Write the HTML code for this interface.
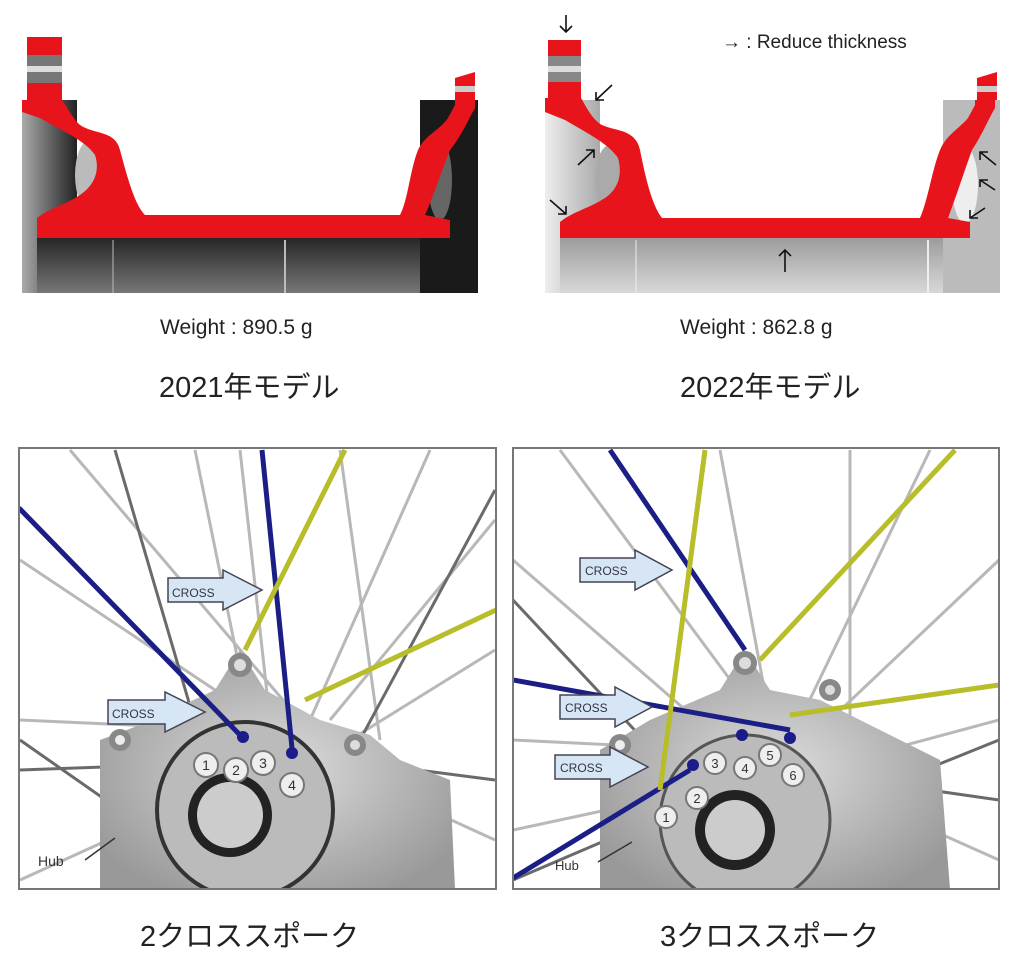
<!DOCTYPE html>
<html><head><meta charset="utf-8"><style>
html,body{margin:0;padding:0;background:#fff;}
svg{display:block}
text{font-family:"Liberation Sans","Noto Sans CJK JP",sans-serif;}
</style></head><body>
<svg width="1024" height="970" viewBox="0 0 1024 970" xmlns="http://www.w3.org/2000/svg">
<defs>
<linearGradient id="dk" x1="0" y1="0" x2="0" y2="1"><stop offset="0" stop-color="#222"/><stop offset="1" stop-color="#777"/></linearGradient>
<linearGradient id="dkl" x1="0" y1="0" x2="1" y2="0"><stop offset="0" stop-color="#aaa"/><stop offset="1" stop-color="#222"/></linearGradient>
<linearGradient id="lt" x1="0" y1="0" x2="0" y2="1"><stop offset="0" stop-color="#999"/><stop offset="1" stop-color="#d8d8d8"/></linearGradient>
<linearGradient id="ltl" x1="0" y1="0" x2="1" y2="0"><stop offset="0" stop-color="#eee"/><stop offset="1" stop-color="#aaa"/></linearGradient>
<radialGradient id="hub" cx="0.5" cy="0.5" r="0.6"><stop offset="0" stop-color="#ddd"/><stop offset="1" stop-color="#999"/></radialGradient>
</defs>

<!-- Top-left rim 2021 -->
<g>
<rect x="22" y="100" width="55" height="193" fill="url(#dkl)"/>
<rect x="37" y="235" width="413" height="58" fill="url(#dk)"/>
<line x1="113" y1="240" x2="113" y2="293" stroke="#bbb" stroke-width="1"/>
<line x1="285" y1="240" x2="285" y2="293" stroke="#bbb" stroke-width="2"/>
<rect x="420" y="100" width="58" height="193" fill="#1a1a1a"/>
<ellipse cx="90" cy="175" rx="15" ry="35" fill="#bbb"/>
<ellipse cx="440" cy="180" rx="12" ry="40" fill="#666"/>
<rect x="27" y="37" width="35" height="18" fill="#e8141b"/>
<rect x="27" y="55" width="35" height="28" fill="#777"/>
<rect x="27" y="66" width="35" height="6" fill="#ddd"/>
<path d="M27 83 H62 V100 C68 108 72 118 80 125 C95 135 115 130 120 150 C128 180 135 205 145 215 H400 C408 200 410 170 418 150 C425 135 440 130 448 118 L455 105 V100 H475 V108 C468 120 462 135 450 150 C440 175 432 200 425 215 L450 220 V238 H37 V218 C50 208 65 205 80 195 C95 185 100 170 95 155 C85 140 60 130 40 118 L22 112 V100 H27 Z" fill="#e8141b"/>
<path d="M455 78 L475 72 V100 H455 Z" fill="#e8141b"/>
<rect x="455" y="86" width="20" height="6" fill="#ccc"/>
</g>

<!-- Top-right rim 2022 -->
<g>
<rect x="545" y="100" width="55" height="193" fill="url(#ltl)"/>
<rect x="560" y="235" width="413" height="58" fill="url(#lt)"/>
<line x1="636" y1="240" x2="636" y2="293" stroke="#eee" stroke-width="1"/>
<line x1="928" y1="240" x2="928" y2="293" stroke="#eee" stroke-width="2"/>
<rect x="943" y="100" width="57" height="193" fill="#bbb"/>
<ellipse cx="610" cy="180" rx="15" ry="35" fill="#aaa"/>
<ellipse cx="965" cy="185" rx="13" ry="38" fill="#eee"/>
<rect x="548" y="40" width="33" height="16" fill="#e8141b"/>
<rect x="548" y="56" width="33" height="26" fill="#888"/>
<rect x="548" y="66" width="33" height="6" fill="#ddd"/>
<path d="M548 82 H581 V98 C586 106 590 116 600 124 C615 132 635 128 640 150 C646 180 652 205 662 218 H920 C928 200 932 170 940 150 C946 135 960 128 968 118 L975 105 V100 H995 V108 C988 120 982 135 972 150 C963 175 955 200 948 218 L970 222 V238 H560 V222 C572 212 590 208 605 198 C620 188 622 172 618 158 C608 143 585 132 565 120 L545 112 V98 H548 Z" fill="#e8141b"/>
<path d="M977 78 L997 72 V100 H977 Z" fill="#e8141b"/>
<rect x="977" y="86" width="20" height="6" fill="#ccc"/>
<g stroke="#111" stroke-width="1.6" fill="none">
<path d="M566 15 V32 M560 26 L566 32 L572 26"/>
<path d="M612 85 L596 100 M596 92 V100 H604"/>
<path d="M578 165 L594 150 M586 150 H594 V158"/>
<path d="M550 200 L566 214 M558 214 H566 V206"/>
<path d="M785 272 V250 M779 256 L785 250 L791 256"/>
<path d="M996 165 L980 152 M980 160 V152 H988"/>
<path d="M995 190 L980 180 M988 180 H980 V187"/>
<path d="M985 208 L970 218 M970 210 V218 H978"/>
</g>
<text x="722" y="48" font-size="19" fill="#222">→ : Reduce thickness</text>
</g>

<text x="160" y="334" font-size="21" fill="#222">Weight : 890.5 g</text>
<text x="680" y="334" font-size="21" fill="#222">Weight : 862.8 g</text>
<text x="159" y="397" font-size="29" fill="#222">2021年モデル</text>
<text x="680" y="397" font-size="29" fill="#222">2022年モデル</text>

<!-- Bottom-left panel -->
<g>
<clipPath id="c1"><rect x="19" y="448" width="477" height="441"/></clipPath>
<g clip-path="url(#c1)">
<rect x="19" y="448" width="477" height="441" fill="#fff"/>
<g stroke="#b8b8b8" stroke-width="3">
<line x1="70" y1="450" x2="300" y2="720"/><line x1="195" y1="450" x2="250" y2="720"/>
<line x1="430" y1="450" x2="310" y2="720"/><line x1="340" y1="450" x2="380" y2="740"/>
<line x1="20" y1="560" x2="260" y2="720"/><line x1="20" y1="720" x2="240" y2="730"/>
<line x1="495" y1="520" x2="330" y2="720"/><line x1="495" y1="650" x2="350" y2="740"/>
<line x1="495" y1="840" x2="320" y2="760"/><line x1="20" y1="880" x2="240" y2="780"/>
<line x1="240" y1="450" x2="270" y2="720"/>
</g>
<g stroke="#6a6a6a" stroke-width="3">
<line x1="115" y1="450" x2="200" y2="740"/><line x1="495" y1="490" x2="360" y2="740"/>
<line x1="20" y1="770" x2="300" y2="760"/><line x1="20" y1="740" x2="220" y2="880"/>
<line x1="495" y1="780" x2="340" y2="760"/>
</g>
<path d="M100 740 L140 725 L215 690 L240 650 L265 690 L320 720 L370 735 L400 760 L450 780 L455 889 H100 Z" fill="url(#hub)"/>
<circle cx="240" cy="665" r="12" fill="#888"/><circle cx="240" cy="665" r="6" fill="#ddd"/>
<circle cx="120" cy="740" r="11" fill="#888"/><circle cx="120" cy="740" r="5" fill="#eee"/>
<circle cx="355" cy="745" r="11" fill="#888"/><circle cx="355" cy="745" r="5" fill="#ddd"/>
<circle cx="245" cy="810" r="88" fill="#bbb" stroke="#333" stroke-width="4"/>
<circle cx="230" cy="815" r="42" fill="#222"/><circle cx="230" cy="815" r="33" fill="#ccc"/>
<g fill="#eee" stroke="#777" stroke-width="2" font-size="13">
<circle cx="206" cy="765" r="12"/><circle cx="236" cy="770" r="12"/><circle cx="263" cy="763" r="12"/><circle cx="292" cy="785" r="12"/>
</g>
<g font-size="14" fill="#333" text-anchor="middle"><text x="206" y="770">1</text><text x="236" y="775">2</text><text x="263" y="768">3</text><text x="292" y="790">4</text></g>
<circle cx="243" cy="737" r="6" fill="#1b1b8a"/><circle cx="292" cy="753" r="6" fill="#1b1b8a"/>
<g stroke="#1b1f85" stroke-width="5"><line x1="19" y1="508" x2="240" y2="735"/><line x1="262" y1="450" x2="292" y2="748"/></g>
<g stroke="#b8bd2a" stroke-width="5"><line x1="345" y1="450" x2="245" y2="650"/><line x1="496" y1="610" x2="305" y2="700"/></g>
<path d="M168 578 H223 V570 L262 590 L223 610 V602 H168 Z" fill="#d7e6f5" stroke="#445" stroke-width="1.5"/>
<text x="172" y="597" font-size="12" fill="#334">CROSS</text>
<path d="M108 700 H165 V692 L205 712 L165 732 V724 H108 Z" fill="#d7e6f5" stroke="#445" stroke-width="1.5"/>
<text x="112" y="718" font-size="12" fill="#334">CROSS</text>
<line x1="85" y1="860" x2="115" y2="838" stroke="#333" stroke-width="1.5"/>
<text x="38" y="866" font-size="14" fill="#333">Hub</text>
</g>
<rect x="19" y="448" width="477" height="441" fill="none" stroke="#777" stroke-width="2"/>
</g>

<!-- Bottom-right panel -->
<g>
<clipPath id="c2"><rect x="513" y="448" width="486" height="441"/></clipPath>
<g clip-path="url(#c2)">
<rect x="513" y="448" width="486" height="441" fill="#fff"/>
<g stroke="#b8b8b8" stroke-width="3">
<line x1="560" y1="450" x2="760" y2="720"/><line x1="720" y1="450" x2="770" y2="720"/>
<line x1="930" y1="450" x2="800" y2="720"/><line x1="850" y1="450" x2="850" y2="740"/>
<line x1="513" y1="560" x2="720" y2="740"/><line x1="513" y1="740" x2="720" y2="750"/>
<line x1="999" y1="560" x2="830" y2="720"/><line x1="999" y1="720" x2="850" y2="760"/>
<line x1="999" y1="860" x2="820" y2="780"/><line x1="513" y1="830" x2="700" y2="790"/>
</g>
<g stroke="#6a6a6a" stroke-width="3">
<line x1="513" y1="600" x2="700" y2="800"/><line x1="999" y1="740" x2="850" y2="800"/>
<line x1="999" y1="800" x2="860" y2="780"/><line x1="513" y1="880" x2="700" y2="800"/>
</g>
<path d="M600 750 L650 720 L720 690 L745 650 L770 690 L820 700 L860 720 L900 740 L940 760 L950 889 H600 Z" fill="url(#hub)"/>
<circle cx="745" cy="663" r="12" fill="#888"/><circle cx="745" cy="663" r="6" fill="#ddd"/>
<circle cx="620" cy="745" r="11" fill="#888"/><circle cx="620" cy="745" r="5" fill="#eee"/>
<circle cx="830" cy="690" r="11" fill="#888"/><circle cx="830" cy="690" r="5" fill="#ddd"/>
<circle cx="745" cy="820" r="85" fill="#bbb" stroke="#555" stroke-width="3"/>
<circle cx="735" cy="830" r="40" fill="#222"/><circle cx="735" cy="830" r="30" fill="#ccc"/>
<g fill="#eee" stroke="#777" stroke-width="2">
<circle cx="666" cy="817" r="11"/><circle cx="697" cy="798" r="11"/><circle cx="715" cy="763" r="11"/><circle cx="745" cy="768" r="11"/><circle cx="770" cy="755" r="11"/><circle cx="793" cy="775" r="11"/>
</g>
<g font-size="13" fill="#333" text-anchor="middle"><text x="666" y="822">1</text><text x="697" y="803">2</text><text x="715" y="768">3</text><text x="745" y="773">4</text><text x="770" y="760">5</text><text x="793" y="780">6</text></g>
<circle cx="693" cy="765" r="6" fill="#1b1b8a"/><circle cx="742" cy="735" r="6" fill="#1b1b8a"/><circle cx="790" cy="738" r="6" fill="#1b1b8a"/>
<g stroke="#1b1f85" stroke-width="5"><line x1="610" y1="450" x2="745" y2="650"/><line x1="513" y1="680" x2="790" y2="730"/><line x1="513" y1="878" x2="690" y2="770"/></g>
<g stroke="#b8bd2a" stroke-width="5"><line x1="705" y1="450" x2="660" y2="790"/><line x1="955" y1="450" x2="760" y2="660"/><line x1="999" y1="685" x2="790" y2="715"/></g>
<path d="M580 558 H635 V550 L672 570 L635 590 V582 H580 Z" fill="#d7e6f5" stroke="#445" stroke-width="1.5"/>
<text x="585" y="575" font-size="12" fill="#334">CROSS</text>
<path d="M560 695 H615 V687 L652 707 L615 727 V719 H560 Z" fill="#d7e6f5" stroke="#445" stroke-width="1.5"/>
<text x="565" y="712" font-size="12" fill="#334">CROSS</text>
<path d="M555 755 H610 V747 L648 767 L610 787 V779 H555 Z" fill="#d7e6f5" stroke="#445" stroke-width="1.5"/>
<text x="560" y="772" font-size="12" fill="#334">CROSS</text>
<line x1="598" y1="862" x2="632" y2="842" stroke="#333" stroke-width="1.5"/>
<text x="555" y="870" font-size="13" fill="#333">Hub</text>
</g>
<rect x="513" y="448" width="486" height="441" fill="none" stroke="#777" stroke-width="2"/>
</g>

<text x="140" y="946" font-size="29" fill="#222">2クロススポーク</text>
<text x="660" y="946" font-size="29" fill="#222">3クロススポーク</text>
</svg>
</body></html>
